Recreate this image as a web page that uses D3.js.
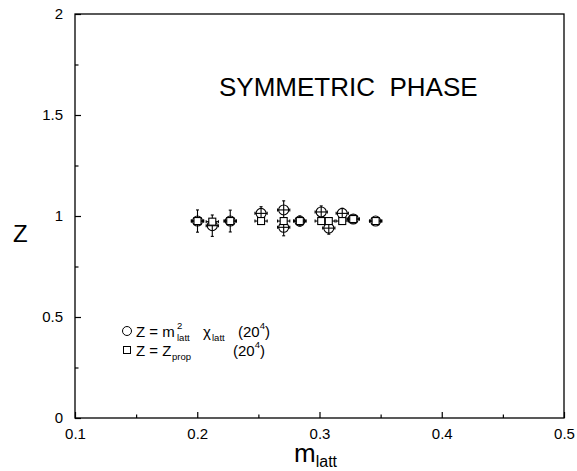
<!DOCTYPE html>
<html>
<head>
<meta charset="utf-8">
<script src="https://cdn.jsdelivr.net/npm/d3@7"></script>
<style>
  body { margin: 0; background: #fff; }
  text { font-family: "Liberation Sans", Arial, sans-serif; fill: #000; }
</style>
</head>
<body>
<script>
// data
var circM   = [0.2002, 0.2123, 0.2270, 0.2522, 0.2707, 0.2707, 0.2839, 0.3014, 0.3076, 0.3186, 0.3276, 0.3459];
var circZ   = [0.975, 0.952, 0.975, 1.013, 1.030, 0.944, 0.975, 1.020, 0.940, 1.013, 0.985, 0.975];
var circErr = [0.055, 0.053, 0.054, 0.033, 0.045, 0.042, 0.025, 0.030, 0.030, 0.025, 0.020, 0.015];

var sqM   = [0.2002, 0.2123, 0.2270, 0.2522, 0.2707, 0.2839, 0.3014, 0.3076, 0.3186, 0.3276, 0.3459];
var sqZ   = [0.975, 0.972, 0.975, 0.975, 0.975, 0.975, 0.975, 0.975, 0.975, 0.985, 0.975];
var sqErr = [0.015, 0.015, 0.015, 0.012, 0.012, 0.012, 0.012, 0.012, 0.012, 0.012, 0.010];
var mErr = 0.005;

var xTicks = [0.1, 0.2, 0.3, 0.4, 0.5];
var xMinor = [0.15, 0.25, 0.35, 0.45];
var yTicks = [0, 0.5, 1, 1.5, 2];
var yMinor = [0.25, 0.75, 1.25, 1.75];

var margin = {top: 14, right: 13, bottom: 53, left: 75},
    width = 577 - margin.left - margin.right,
    height = 471 - margin.top - margin.bottom;

var x = d3.scaleLinear().domain([0.1, 0.5]).range([0, width]);
var y = d3.scaleLinear().domain([0, 2]).range([height, 0]);

var svg = d3.select("body").append("svg")
    .attr("width", 577)
    .attr("height", 471)
  .append("g")
    .attr("transform", "translate(" + margin.left + "," + margin.top + ")");

// frame
svg.append("rect")
    .attr("width", width).attr("height", height)
    .attr("fill", "none").attr("stroke", "#000").attr("stroke-width", 1.3);

// axes with inward ticks
function styleAxis(g) {
  g.select(".domain").remove();
  g.selectAll("line").attr("stroke", "#000").attr("stroke-width", 1.2);
  g.selectAll("text").style("font-size", "15px").style("font-family", "Liberation Sans, Arial, sans-serif");
}

svg.append("g")
    .attr("transform", "translate(0," + height + ")")
    .call(d3.axisBottom(x).tickValues(xTicks).tickSizeInner(-6).tickSizeOuter(0).tickPadding(10)
      .tickFormat(function(d) { return String(+d.toFixed(1)); }))
    .call(styleAxis);
svg.append("g")
    .attr("transform", "translate(0," + height + ")")
    .call(d3.axisBottom(x).tickValues(xMinor).tickSizeInner(-3.5).tickSizeOuter(0).tickFormat(""))
    .call(styleAxis);

svg.append("g")
    .call(d3.axisLeft(y).tickValues(yTicks).tickSizeInner(-6).tickSizeOuter(0).tickPadding(12)
      .tickFormat(function(d) { return String(d); }))
    .call(styleAxis);
svg.append("g")
    .call(d3.axisLeft(y).tickValues(yMinor).tickSizeInner(-3.5).tickSizeOuter(0).tickFormat(""))
    .call(styleAxis);

// axis labels
svg.append("text")
    .attr("x", 13 - margin.left).attr("y", 242 - margin.top)
    .style("font-size", "24px")
    .text("Z");

var xl = svg.append("text")
    .attr("x", 294 - margin.left).attr("y", 462 - margin.top)
    .style("font-size", "26px");
xl.append("tspan").text("m");
xl.append("tspan").attr("dy", 5).style("font-size", "16px").text("latt");

svg.append("text")
    .attr("x", 219 - margin.left).attr("y", 96 - margin.top)
    .style("font-size", "26px")
    .style("white-space", "pre")
    .text("SYMMETRIC  PHASE");

// error bars
function errBars(ms, zs, es, cls) {
  var g = svg.append("g").attr("class", cls).attr("stroke", "#000").attr("stroke-width", 1.1);
  ms.forEach(function(m, i) {
    g.append("line").attr("x1", x(m)).attr("x2", x(m)).attr("y1", y(zs[i] - es[i])).attr("y2", y(zs[i] + es[i]));
    g.append("line").attr("x1", x(m) - 1.5).attr("x2", x(m) + 1.5).attr("y1", y(zs[i] - es[i])).attr("y2", y(zs[i] - es[i]));
    g.append("line").attr("x1", x(m) - 1.5).attr("x2", x(m) + 1.5).attr("y1", y(zs[i] + es[i])).attr("y2", y(zs[i] + es[i]));
    g.append("line").attr("x1", x(m - mErr)).attr("x2", x(m + mErr)).attr("y1", y(zs[i])).attr("y2", y(zs[i]));
    g.append("line").attr("x1", x(m - mErr)).attr("x2", x(m - mErr)).attr("y1", y(zs[i]) - 1.5).attr("y2", y(zs[i]) + 1.5);
    g.append("line").attr("x1", x(m + mErr)).attr("x2", x(m + mErr)).attr("y1", y(zs[i]) - 1.5).attr("y2", y(zs[i]) + 1.5);
  });
}
errBars(circM, circZ, circErr, "circErr");
errBars(sqM, sqZ, sqErr, "sqErr");

svg.selectAll(".circ")
    .data(circM)
  .enter().append("circle")
    .attr("cx", function(d) { return x(d); })
    .attr("cy", function(d, i) { return y(circZ[i]); })
    .attr("r", 5)
    .attr("fill", "none").attr("stroke", "#000").attr("stroke-width", 1.1);

svg.selectAll(".sq")
    .data(sqM)
  .enter().append("rect")
    .attr("x", function(d) { return x(d) - 3.5; })
    .attr("y", function(d, i) { return y(sqZ[i]) - 3.5; })
    .attr("width", 7).attr("height", 7)
    .attr("fill", "#fff").attr("stroke", "#000").attr("stroke-width", 1.1);

// legend
var lg = svg.append("g").attr("transform", "translate(" + (127 - margin.left) + "," + (331 - margin.top) + ")");
lg.append("circle").attr("cx", 0).attr("cy", 0).attr("r", 4.5)
    .attr("fill", "#fff").attr("stroke", "#000").attr("stroke-width", 1);
lg.append("rect").attr("x", -3.5).attr("y", 15.5).attr("width", 7).attr("height", 7)
    .attr("fill", "#fff").attr("stroke", "#000").attr("stroke-width", 1);

var t1 = lg.append("text").attr("x", 9).attr("y", 6).style("font-size", "15px");
t1.append("tspan").text("Z = m");
t1.append("tspan").attr("x", 50).attr("dy", -8).style("font-size", "9.5px").text("2");
t1.append("tspan").attr("x", 50).attr("dy", 12).style("font-size", "9.5px").text("latt");
t1.append("tspan").attr("x", 76).attr("dy", -4).text("\u03c7");
t1.append("tspan").attr("x", 85).attr("dy", 4).style("font-size", "9.5px").text("latt");
t1.append("tspan").attr("x", 111).attr("dy", -4).text("(20");
t1.append("tspan").attr("dy", -8).style("font-size", "9.5px").text("4");
t1.append("tspan").attr("dy", 8).text(")");

var t2 = lg.append("text").attr("x", 9).attr("y", 25).style("font-size", "15px");
t2.append("tspan").text("Z = Z");
t2.append("tspan").attr("x", 45).attr("dy", 4).style("font-size", "9.5px").text("prop");
t2.append("tspan").attr("x", 106).attr("dy", -4).text("(20");
t2.append("tspan").attr("dy", -8).style("font-size", "9.5px").text("4");
t2.append("tspan").attr("dy", 8).text(")");
</script>
</body>
</html>
